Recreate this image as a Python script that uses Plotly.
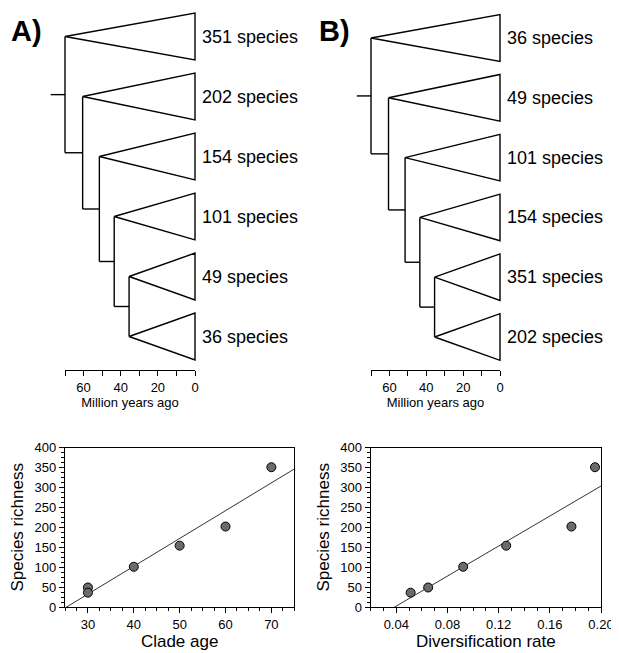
import numpy as np
import plotly.graph_objects as go

OFF = 8                      # page body margin of the browser
W, H = 619 - OFF, 653 - OFF
FONT = "Liberation Sans, Arial, Helvetica, sans-serif"

# ---------------- data ----------------
node_ages = [70, 60.5, 51.5, 43.5, 35.5]      # Mya, internal nodes (ladder, top to bottom)
stem_length = 7.7                              # root stem (Myr)
clades_A = ["351 species", "202 species", "154 species", "101 species", "49 species", "36 species"]
clades_B = ["36 species", "49 species", "101 species", "154 species", "351 species", "202 species"]
time_ticks = [70, 60, 50, 40, 30, 20, 10, 0]
time_labels = ["", "60", "", "40", "", "20", "", "0"]

clade_age = [70, 60, 50, 40, 30, 30]
richness_A = [351, 202, 154, 101, 49, 36]
div_rate = [0.0512, 0.0649, 0.0923, 0.1259, 0.1953, 0.1769]
richness_B = [36, 49, 101, 154, 351, 202]


def fx(px):
    return (px - OFF) / W


def fy(py):
    return 1 - (py - OFF) / H


def tree_lines(ages, n_clades, half=0.39, stem=7.7):
    xs, ys = [], []

    def seg(pts):
        for p in pts:
            xs.append(p[0]); ys.append(p[1])
        xs.append(None); ys.append(None)

    n_nodes = len(ages)
    last = n_nodes - 1
    node_y = [0.0] * n_nodes
    node_y[last] = (last + last + 1) / 2
    for k in range(last - 1, -1, -1):
        node_y[k] = (k + node_y[k + 1]) / 2
    for i in range(n_clades):
        k = min(i, last)
        a = ages[k]
        seg([(a, i), (0, i - half), (0, i + half), (a, i)])
    for k in range(n_nodes):
        lower = node_y[k + 1] if k < last else last + 1
        seg([(ages[k], k), (ages[k], lower)])
        if k < last:
            seg([(ages[k], node_y[k + 1]), (ages[k + 1], node_y[k + 1])])
    seg([(ages[0] + stem, node_y[0]), (ages[0], node_y[0])])
    return xs, ys


fig = go.Figure()

# ---------------- trees ----------------
for idx, (clades, xa, ya) in enumerate([(clades_A, "x", "y"), (clades_B, "x2", "y2")]):
    tx, ty = tree_lines(node_ages, len(clades), stem=stem_length)
    fig.add_trace(go.Scatter(x=tx, y=ty, mode="lines", xaxis=xa, yaxis=ya,
                             line=dict(color="black", width=1.4), showlegend=False,
                             hoverinfo="skip"))
    for i, lab in enumerate(clades):
        fig.add_annotation(x=0, y=i, xref=xa, yref=ya, text=lab, showarrow=False,
                           xanchor="left", yanchor="middle", xshift=5,
                           font=dict(family=FONT, size=18, color="black"))

# dummy traces for time-axis subplots
fig.add_trace(go.Scatter(x=[None], y=[None], xaxis="x3", yaxis="y3", showlegend=False))
fig.add_trace(go.Scatter(x=[None], y=[None], xaxis="x4", yaxis="y4", showlegend=False))

# ---------------- scatter plots ----------------
for xs_, ys_, xa, ya, xr in [(clade_age, richness_A, "x5", "y5", (25, 75)),
                             (div_rate, richness_B, "x6", "y6", (0.02, 0.20))]:
    slope, icpt = np.polyfit(np.array(xs_, float), np.array(ys_, float), 1)
    lx = np.array(xr)
    fig.add_trace(go.Scatter(x=lx, y=slope * lx + icpt, mode="lines", xaxis=xa, yaxis=ya,
                             line=dict(color="#333333", width=1), showlegend=False))
    fig.add_trace(go.Scatter(x=xs_, y=ys_, mode="markers", xaxis=xa, yaxis=ya,
                             marker=dict(size=9, color="#6b6b6b",
                                         line=dict(color="black", width=1)),
                             showlegend=False, cliponaxis=False))

# ---------------- layout ----------------
def tree_x(dom_l, dom_r, root_px, tip_px):
    scale = (tip_px - root_px) / 70.0
    return dict(domain=[fx(dom_l), fx(dom_r)],
                range=[(tip_px - dom_l) / scale, (tip_px - dom_r) / scale],
                visible=False, fixedrange=True)


def tree_y(y0, spacing, top=8, bottom=380):
    return dict(domain=[fy(bottom), fy(top)],
                range=[(bottom - y0) / spacing, (top - y0) / spacing],
                visible=False)


def time_axis(l, r, anchor):
    return dict(domain=[fx(l), fx(r)], range=[70, 0], anchor=anchor,
                tickvals=time_ticks, ticktext=time_labels, ticks="outside",
                ticklen=5, tickwidth=1.2, tickcolor="black", showline=True,
                linecolor="black", linewidth=1.2, showgrid=False, zeroline=False,
                tickfont=dict(family=FONT, size=13, color="black"),
                title=dict(text="Million years ago", standoff=3,
                           font=dict(family=FONT, size=13, color="black")))


def sc_axis(dom, rng, title, dtick, tick0, minor, fmt=None, anchor=None, standoff=4):
    d = dict(domain=dom, range=list(rng), dtick=dtick, tick0=tick0, ticks="outside",
             ticklen=5, tickwidth=1.2, tickcolor="black", showline=True, mirror=True,
             linecolor="black", linewidth=1.2, showgrid=False, zeroline=False,
             minor=dict(dtick=minor, ticks="outside", ticklen=3, tickwidth=1,
                        tickcolor="black", showgrid=False),
             tickfont=dict(family=FONT, size=13, color="black"),
             title=dict(text=title, standoff=standoff,
                        font=dict(family=FONT, size=17, color="black")),
             anchor=anchor)
    if fmt:
        d["tickformat"] = fmt
    return d


fig.update_layout(
    width=W, height=H,
    margin=dict(l=0, r=0, t=0, b=0),
    paper_bgcolor="white", plot_bgcolor="rgba(0,0,0,0)",
    template="none",
    showlegend=False,
    xaxis=tree_x(40, 310, 65, 195),
    yaxis=tree_y(36.5, 60),
    xaxis2=tree_x(345, 615, 371, 500),
    yaxis2=tree_y(38, 59.8),
    xaxis3=time_axis(65, 195, "y3"),
    yaxis3=dict(domain=[fy(370), fy(366)], visible=False, anchor="x3"),
    xaxis4=time_axis(371, 500, "y4"),
    yaxis4=dict(domain=[fy(370), fy(366)], visible=False, anchor="x4"),
    xaxis5=sc_axis([fx(65), fx(294.3)], (25, 75), "Clade age", 10, 30, 2.5, anchor="y5"),
    yaxis5=sc_axis([fy(607), fy(447.7)], (0, 400), "Species richness", 50, 0, 12.5,
                   anchor="x5", standoff=6),
    xaxis6=sc_axis([fx(370.7), fx(601)], (0.02, 0.20), "Diversification rate", 0.04, 0.04,
                   0.01, fmt=".2f", anchor="y6"),
    yaxis6=sc_axis([fy(607), fy(447.7)], (0, 400), "Species richness", 50, 0, 12.5,
                   anchor="x6", standoff=6),
)

for txt, px in [("<b>A)</b>", 9), ("<b>B)</b>", 317)]:
    fig.add_annotation(x=fx(px), y=fy(31), xref="paper", yref="paper", text=txt,
                       showarrow=False, xanchor="left", yanchor="middle",
                       font=dict(family=FONT, size=29, color="black"))

fig.write_html("out.html")
